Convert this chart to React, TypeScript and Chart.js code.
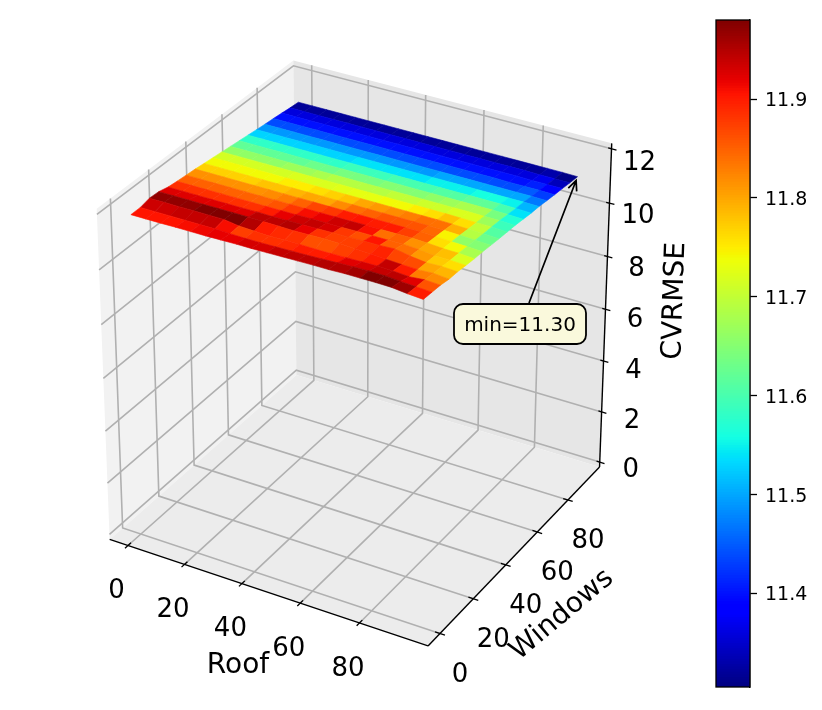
import { useEffect, useRef } from "react"
import { Chart, registerables } from "chart.js"

Chart.register(...registerables)

const FONT = "'DejaVu Sans'"

const roofTicks = [0, 20, 40, 60, 80]
const windowsTicks = [0, 20, 40, 60, 80]
const zTicks = [0, 2, 4, 6, 8, 10, 12]
const colorbarTicks = [11.4, 11.5, 11.6, 11.7, 11.8, 11.9]

const roofGrid = [1, 6, 11.1, 16.1, 21.2, 26.2, 31.2, 36.3, 41.3, 46.4, 51.4, 56.4, 61.5, 66.5, 71.6, 76.6, 81.6, 86.7, 91.7, 96.7]
const windowsGrid = [-1, 3.9, 8.7, 13.6, 18.5, 23.3, 28.2, 33.1, 37.9, 42.8, 47.7, 52.5, 57.4, 62.3, 67.2, 72, 76.9, 81.8, 86.6, 91.5]

// surface height, one row per windows value, one column per roof value
const cvrmse = [
  [11.90, 11.90, 11.90, 11.91, 11.91, 11.91, 11.92, 11.93, 11.93, 11.94, 11.95, 11.96, 11.97, 11.97, 11.99, 11.99, 11.99, 11.98, 11.92, 11.88],
  [11.90, 11.90, 11.90, 11.90, 11.90, 11.90, 11.88, 11.87, 11.87, 11.88, 11.89, 11.90, 11.92, 11.94, 11.96, 11.97, 11.96, 11.92, 11.89, 11.86],
  [11.98, 11.98, 11.98, 11.98, 11.98, 11.98, 11.90, 11.87, 11.85, 11.86, 11.86, 11.85, 11.85, 11.86, 11.87, 11.88, 11.86, 11.82, 11.87, 11.84],
  [11.96, 11.96, 11.96, 11.96, 11.96, 11.96, 11.96, 11.95, 11.94, 11.93, 11.94, 11.95, 11.94, 11.91, 11.88, 11.85, 11.82, 11.80, 11.83, 11.78],
  [11.87, 11.87, 11.87, 11.87, 11.87, 11.87, 11.88, 11.87, 11.88, 11.88, 11.89, 11.90, 11.90, 11.92, 11.92, 11.95, 11.85, 11.78, 11.80, 11.77],
  [11.83, 11.83, 11.83, 11.83, 11.83, 11.83, 11.83, 11.83, 11.83, 11.84, 11.84, 11.84, 11.85, 11.85, 11.85, 11.86, 11.82, 11.76, 11.76, 11.73],
  [11.80, 11.80, 11.80, 11.80, 11.80, 11.80, 11.80, 11.80, 11.80, 11.80, 11.80, 11.80, 11.81, 11.81, 11.81, 11.81, 11.79, 11.75, 11.74, 11.70],
  [11.77, 11.77, 11.77, 11.77, 11.77, 11.77, 11.77, 11.77, 11.77, 11.77, 11.77, 11.77, 11.77, 11.77, 11.77, 11.77, 11.76, 11.73, 11.71, 11.68],
  [11.73, 11.73, 11.73, 11.73, 11.73, 11.73, 11.73, 11.73, 11.73, 11.73, 11.73, 11.73, 11.73, 11.73, 11.73, 11.73, 11.72, 11.70, 11.68, 11.65],
  [11.69, 11.69, 11.69, 11.69, 11.69, 11.69, 11.69, 11.69, 11.69, 11.69, 11.69, 11.69, 11.69, 11.69, 11.69, 11.69, 11.68, 11.66, 11.65, 11.62],
  [11.65, 11.65, 11.65, 11.65, 11.65, 11.65, 11.65, 11.65, 11.65, 11.65, 11.65, 11.65, 11.65, 11.65, 11.65, 11.65, 11.64, 11.63, 11.63, 11.60],
  [11.61, 11.61, 11.61, 11.61, 11.61, 11.61, 11.61, 11.61, 11.61, 11.61, 11.61, 11.61, 11.61, 11.61, 11.61, 11.61, 11.61, 11.60, 11.60, 11.58],
  [11.57, 11.57, 11.57, 11.57, 11.57, 11.57, 11.57, 11.57, 11.57, 11.57, 11.57, 11.57, 11.57, 11.57, 11.57, 11.57, 11.57, 11.57, 11.56, 11.54],
  [11.53, 11.53, 11.53, 11.53, 11.53, 11.53, 11.53, 11.53, 11.53, 11.53, 11.53, 11.53, 11.53, 11.53, 11.53, 11.53, 11.53, 11.53, 11.52, 11.50],
  [11.49, 11.49, 11.49, 11.49, 11.49, 11.49, 11.49, 11.49, 11.49, 11.49, 11.49, 11.49, 11.49, 11.49, 11.49, 11.49, 11.49, 11.49, 11.49, 11.48],
  [11.45, 11.45, 11.45, 11.45, 11.45, 11.45, 11.45, 11.45, 11.45, 11.45, 11.45, 11.45, 11.45, 11.45, 11.45, 11.45, 11.45, 11.45, 11.45, 11.44],
  [11.42, 11.42, 11.42, 11.42, 11.42, 11.42, 11.42, 11.42, 11.42, 11.42, 11.42, 11.42, 11.42, 11.42, 11.42, 11.42, 11.41, 11.41, 11.41, 11.40],
  [11.38, 11.38, 11.38, 11.38, 11.38, 11.38, 11.38, 11.38, 11.38, 11.38, 11.38, 11.38, 11.38, 11.38, 11.38, 11.38, 11.38, 11.37, 11.37, 11.37],
  [11.34, 11.34, 11.34, 11.34, 11.34, 11.34, 11.34, 11.34, 11.34, 11.34, 11.34, 11.34, 11.34, 11.34, 11.34, 11.34, 11.34, 11.33, 11.33, 11.33],
  [11.31, 11.31, 11.31, 11.31, 11.31, 11.31, 11.31, 11.31, 11.31, 11.31, 11.31, 11.31, 11.31, 11.31, 11.31, 11.31, 11.31, 11.31, 11.31, 11.30],
]

const facets = [
  [11.905, 11.905, 11.905, 11.91, 11.915, 11.92, 11.92, 11.93, 11.93, 11.94, 11.943, 11.945, 11.95, 11.95, 11.96, 11.98, 11.98, 11.962, 11.90],
  [11.935, 11.935, 11.94, 11.94, 11.94, 11.91, 11.875, 11.885, 11.885, 11.89, 11.90, 11.90, 11.905, 11.923, 11.93, 11.94, 11.945, 11.923, 11.86],
  [11.97, 11.97, 11.97, 11.98, 11.98, 11.98, 11.95, 11.90, 11.89, 11.885, 11.863, 11.863, 11.874, 11.885, 11.90, 11.94, 11.90, 11.83, 11.82],
  [11.925, 11.925, 11.925, 11.925, 11.925, 11.925, 11.945, 11.945, 11.95, 11.92, 11.885, 11.875, 11.875, 11.885, 11.895, 11.87, 11.865, 11.80, 11.79],
  [11.885, 11.885, 11.885, 11.885, 11.885, 11.885, 11.90, 11.92, 11.935, 11.94, 11.93, 11.88, 11.863, 11.905, 11.85, 11.84, 11.81, 11.775, 11.76],
  [11.85, 11.85, 11.85, 11.85, 11.85, 11.85, 11.86, 11.88, 11.91, 11.92, 11.935, 11.94, 11.908, 11.84, 11.851, 11.816, 11.80, 11.783, 11.72],
  [11.816, 11.816, 11.816, 11.816, 11.816, 11.82, 11.83, 11.85, 11.87, 11.88, 11.90, 11.905, 11.90, 11.90, 11.875, 11.85, 11.76, 11.74, 11.68],
  [11.77, 11.77, 11.77, 11.77, 11.78, 11.78, 11.79, 11.80, 11.80, 11.82, 11.84, 11.85, 11.86, 11.86, 11.86, 11.845, 11.745, 11.66, 11.65],
  [11.74, 11.74, 11.74, 11.74, 11.74, 11.75, 11.75, 11.76, 11.77, 11.78, 11.80, 11.81, 11.82, 11.83, 11.84, 11.839, 11.794, 11.69, 11.63],
  [11.715, 11.715, 11.715, 11.715, 11.715, 11.72, 11.72, 11.72, 11.725, 11.73, 11.73, 11.74, 11.74, 11.75, 11.76, 11.78, 11.76, 11.70, 11.61],
  [11.66, 11.66, 11.66, 11.66, 11.67, 11.67, 11.68, 11.69, 11.69, 11.69, 11.69, 11.70, 11.70, 11.71, 11.71, 11.72, 11.72, 11.67, 11.59],
  [11.62, 11.62, 11.62, 11.62, 11.62, 11.63, 11.63, 11.64, 11.64, 11.64, 11.65, 11.65, 11.65, 11.66, 11.67, 11.68, 11.68, 11.64, 11.57],
  [11.58, 11.58, 11.58, 11.58, 11.58, 11.58, 11.58, 11.59, 11.59, 11.59, 11.60, 11.60, 11.60, 11.61, 11.61, 11.62, 11.62, 11.60, 11.54],
  [11.53, 11.53, 11.53, 11.53, 11.53, 11.53, 11.53, 11.54, 11.54, 11.54, 11.54, 11.54, 11.55, 11.55, 11.55, 11.56, 11.56, 11.55, 11.51],
  [11.49, 11.49, 11.49, 11.49, 11.49, 11.49, 11.49, 11.49, 11.49, 11.49, 11.49, 11.49, 11.50, 11.50, 11.50, 11.50, 11.50, 11.50, 11.47],
  [11.44, 11.44, 11.44, 11.44, 11.44, 11.44, 11.44, 11.44, 11.44, 11.44, 11.44, 11.44, 11.44, 11.44, 11.44, 11.44, 11.44, 11.45, 11.43],
  [11.40, 11.40, 11.40, 11.40, 11.40, 11.40, 11.40, 11.40, 11.40, 11.40, 11.40, 11.40, 11.40, 11.40, 11.40, 11.40, 11.40, 11.41, 11.39],
  [11.36, 11.36, 11.36, 11.36, 11.36, 11.36, 11.36, 11.36, 11.36, 11.36, 11.36, 11.36, 11.36, 11.36, 11.36, 11.36, 11.36, 11.37, 11.34],
  [11.32, 11.32, 11.32, 11.32, 11.32, 11.32, 11.32, 11.32, 11.32, 11.32, 11.32, 11.32, 11.32, 11.32, 11.32, 11.32, 11.32, 11.33, 11.31],
]

const colorMin = 11.3055
const colorMax = 11.98

type Stop = [number, number]
const jetRed: Stop[] = [[0, 0], [0.35, 0], [0.66, 1], [0.89, 1], [1, 0.5]]
const jetGreen: Stop[] = [[0, 0], [0.125, 0], [0.375, 1], [0.64, 1], [0.91, 0], [1, 0]]
const jetBlue: Stop[] = [[0, 0.5], [0.11, 1], [0.34, 1], [0.65, 0], [1, 0]]

function channel(stops: Stop[], t: number) {
  for (let i = 1; i < stops.length; i++) {
    if (t <= stops[i][0]) {
      const [x0, y0] = stops[i - 1]
      const [x1, y1] = stops[i]
      return Math.round(255 * (y0 + ((y1 - y0) * (t - x0)) / (x1 - x0)))
    }
  }
  return Math.round(255 * stops[stops.length - 1][1])
}

function jet(value: number) {
  const t = Math.min(1, Math.max(0, (value - colorMin) / (colorMax - colorMin)))
  return `rgb(${channel(jetRed, t)}, ${channel(jetGreen, t)}, ${channel(jetBlue, t)})`
}

// same camera as matplotlib's default 3d view: elev 30, azim -60, dist 10.
// a, b, c run from -0.5 to 0.5 across the box
function view(a: number, b: number, c: number) {
  const xv = 0.866 * a + 0.5 * b
  const yv = -0.25 * a + 0.433 * b + 0.866 * c
  const zv = -10 + 0.433 * a - 0.75 * b + 0.5 * c
  return { x: xv / -zv, y: yv / -zv }
}

const roofToBox = (v: number) => -0.44 + 0.00915 * v
const windowsToBox = (v: number) => -0.435 + 0.00924 * v
const zToBox = (v: number) => (v + 0.2) / 12.4 - 0.5
const project = (roof: number, win: number, z: number) => view(roofToBox(roof), windowsToBox(win), zToBox(z))

function shape(points: { x: number; y: number }[], color: string, stroke = color, width = 0.6) {
  return {
    data: [...points, points[0]],
    showLine: true,
    fill: "shape",
    backgroundColor: color,
    borderColor: stroke,
    borderWidth: width,
    pointRadius: 0,
    tension: 0,
  }
}

function polyline(points: { x: number; y: number }[], color: string, width: number) {
  return {
    data: points,
    showLine: true,
    fill: false,
    borderColor: color,
    borderWidth: width,
    pointRadius: 0,
    tension: 0,
  }
}

function buildDatasets() {
  const sets: any[] = []
  const gridColor = "#b0b0b0"
  const paneLine = "rgba(0,0,0,0)"

  // panes
  sets.push(shape([view(-0.5, -0.5, -0.5), view(-0.5, 0.5, -0.5), view(-0.5, 0.5, 0.5), view(-0.5, -0.5, 0.5)], "#f2f2f2", paneLine, 0))
  sets.push(shape([view(-0.5, 0.5, -0.5), view(0.5, 0.5, -0.5), view(0.5, 0.5, 0.5), view(-0.5, 0.5, 0.5)], "#e6e6e6", paneLine, 0))
  sets.push(shape([view(-0.5, -0.5, -0.5), view(0.5, -0.5, -0.5), view(0.5, 0.5, -0.5), view(-0.5, 0.5, -0.5)], "#ececec", paneLine, 0))

  // grid lines
  roofTicks.forEach((t) => {
    const a = roofToBox(t)
    sets.push(polyline([view(a, -0.5, -0.5), view(a, 0.5, -0.5), view(a, 0.5, 0.5)], gridColor, 1.6))
  })
  windowsTicks.forEach((t) => {
    const b = windowsToBox(t)
    sets.push(polyline([view(0.5, b, -0.5), view(-0.5, b, -0.5), view(-0.5, b, 0.5)], gridColor, 1.6))
  })
  zTicks.forEach((t) => {
    const c = zToBox(t)
    sets.push(polyline([view(-0.5, -0.5, c), view(-0.5, 0.5, c), view(0.5, 0.5, c)], gridColor, 1.6))
  })

  // axis lines and ticks
  sets.push(polyline([view(-0.5, -0.5, -0.5), view(0.5, -0.5, -0.5)], "#000", 1.4))
  sets.push(polyline([view(0.5, -0.5, -0.5), view(0.5, 0.5, -0.5)], "#000", 1.4))
  sets.push(polyline([view(0.5, 0.5, -0.5), view(0.5, 0.5, 0.5)], "#000", 1.4))
  roofTicks.forEach((t) => {
    const a = roofToBox(t)
    sets.push(polyline([view(a, -0.515, -0.5), view(a, -0.485, -0.5)], "#000", 1.3))
  })
  windowsTicks.forEach((t) => {
    const b = windowsToBox(t)
    sets.push(polyline([view(0.485, b, -0.5), view(0.515, b, -0.5)], "#000", 1.3))
  })
  zTicks.forEach((t) => {
    const c = zToBox(t)
    sets.push(polyline([view(0.49, 0.5, c), view(0.515, 0.5, c)], "#000", 1.3))
  })

  // surface, back rows first
  for (let j = windowsGrid.length - 2; j >= 0; j--) {
    for (let i = 0; i < roofGrid.length - 1; i++) {
      sets.push(
        shape(
          [
            project(roofGrid[i], windowsGrid[j], cvrmse[j][i]),
            project(roofGrid[i + 1], windowsGrid[j], cvrmse[j][i + 1]),
            project(roofGrid[i + 1], windowsGrid[j + 1], cvrmse[j + 1][i + 1]),
            project(roofGrid[i], windowsGrid[j + 1], cvrmse[j + 1][i]),
          ],
          jet(facets[j][i])
        )
      )
    }
  }

  // Chart.js paints the highest order first
  sets.forEach((s, i) => (s.order = sets.length - i))
  return sets
}

const labelsPlugin = {
  id: "labels3d",
  afterDatasetsDraw(chart: any) {
    const { ctx, scales } = chart
    const px = (p: { x: number; y: number }) => ({ x: scales.x.getPixelForValue(p.x), y: scales.y.getPixelForValue(p.y) })

    ctx.save()
    ctx.fillStyle = "#000"
    ctx.textAlign = "center"
    ctx.textBaseline = "middle"
    ctx.font = `26px ${FONT}`
    roofTicks.forEach((t) => {
      const p = px(view(roofToBox(t), -0.5, -0.5))
      ctx.fillText(String(t), p.x - 11.5, p.y + 46)
    })
    windowsTicks.forEach((t) => {
      const p = px(view(0.5, windowsToBox(t), -0.5))
      ctx.fillText(String(t), p.x + 20, p.y + 41.5)
    })
    zTicks.forEach((t) => {
      const p = px(view(0.5, 0.5, zToBox(t)))
      ctx.fillText(String(t), p.x + 31 - t / 4, p.y + 8.5 + t / 2)
    })

    ctx.font = `28px ${FONT}`
    ctx.fillText("Roof", 238, 666)
    const rotated = (text: string, x: number, y: number, deg: number) => {
      ctx.save()
      ctx.translate(x, y)
      ctx.rotate((deg * Math.PI) / 180)
      ctx.fillText(text, 0, 0)
      ctx.restore()
    }
    rotated("Windows", 562, 615, -40)
    rotated("CVRMSE", 675, 301, -88)

    // annotation of the minimum
    const last = windowsGrid.length - 1
    const target = px(project(roofGrid[last], windowsGrid[last], cvrmse[last][last]))
    const fromX = 529
    const fromY = 303
    const angle = Math.atan2(target.y - fromY, target.x - fromX)
    const tipX = target.x - 4 * Math.cos(angle)
    const tipY = target.y - 4 * Math.sin(angle)
    ctx.strokeStyle = "#000"
    ctx.lineWidth = 1.7
    ctx.beginPath()
    ctx.moveTo(fromX, fromY)
    ctx.lineTo(tipX, tipY)
    ctx.moveTo(tipX - 11 * Math.cos(angle - 0.42), tipY - 11 * Math.sin(angle - 0.42))
    ctx.lineTo(tipX, tipY)
    ctx.lineTo(tipX - 11 * Math.cos(angle + 0.42), tipY - 11 * Math.sin(angle + 0.42))
    ctx.stroke()

    ctx.beginPath()
    ctx.roundRect(454, 304, 132, 40, 9)
    ctx.fillStyle = "#faf9dc"
    ctx.fill()
    ctx.lineWidth = 1.8
    ctx.stroke()
    ctx.fillStyle = "#000"
    ctx.font = `20px ${FONT}`
    ctx.fillText("min=11.30", 520, 326)
    ctx.restore()
  },
}

const framePlugin = {
  id: "colorbarFrame",
  afterDatasetsDraw(chart: any) {
    const { ctx, chartArea } = chart
    ctx.save()
    ctx.strokeStyle = "#000"
    ctx.lineWidth = 1.3
    ctx.strokeRect(chartArea.left, chartArea.top, chartArea.right - chartArea.left, chartArea.bottom - chartArea.top)
    ctx.restore()
  },
}

export default function App() {
  const mainRef = useRef<HTMLCanvasElement>(null)
  const barRef = useRef<HTMLCanvasElement>(null)

  useEffect(() => {
    document.body.style.margin = "0"
    if (!mainRef.current || !barRef.current) return

    const main = new Chart(mainRef.current, {
      type: "scatter",
      data: { datasets: buildDatasets() },
      options: {
        animation: false,
        responsive: false,
        layout: { padding: 0 },
        scales: {
          x: { type: "linear", display: false, min: -0.09752, max: 0.12615 },
          y: { type: "linear", display: false, min: -0.09717, max: 0.09091 },
        },
        plugins: { legend: { display: false }, tooltip: { enabled: false } },
      },
      plugins: [labelsPlugin],
    } as any)

    // colorbar, one floating bar per colour level, each running to the top
    const levels = 256
    const barSets: any[] = []
    for (let i = 0; i < levels; i++) {
      const lo = colorMin + ((colorMax - colorMin) * i) / levels
      barSets.push({
        data: [[lo, colorMax]],
        backgroundColor: jet(lo + (colorMax - colorMin) / levels / 2),
        borderWidth: 0,
        barPercentage: 1,
        categoryPercentage: 1,
        grouped: false,
        order: levels - i,
      })
    }

    const bar = new Chart(barRef.current, {
      type: "bar",
      data: { labels: ["CVRMSE"], datasets: barSets },
      options: {
        animation: false,
        responsive: false,
        layout: { padding: { left: 16, top: 20, bottom: 23, right: 0 } },
        scales: {
          x: { display: false },
          y: {
            position: "right",
            min: colorMin,
            max: colorMax,
            afterFit: (scale: any) => {
              scale.width = 72
            },
            afterBuildTicks: (scale: any) => {
              scale.ticks = colorbarTicks.map((value) => ({ value }))
            },
            grid: { drawOnChartArea: false, drawTicks: true, tickLength: 7, tickColor: "#000", tickWidth: 1.3 },
            border: { color: "#000", width: 1.3 },
            ticks: {
              color: "#000",
              padding: 8,
              labelOffset: 2,
              font: { family: "DejaVu Sans", size: 19 },
              callback: (value: any) => Number(value).toFixed(1),
            },
          },
        },
        plugins: { legend: { display: false }, tooltip: { enabled: false } },
      },
      plugins: [framePlugin],
    } as any)

    return () => {
      main.destroy()
      bar.destroy()
    }
  }, [])

  return (
    <div style={{ position: "relative", width: 822, height: 710, overflow: "hidden", background: "#fff" }}>
      <canvas ref={mainRef} width={822} height={710} style={{ position: "absolute", left: 0, top: 0 }}></canvas>
      <canvas ref={barRef} width={122} height={710} style={{ position: "absolute", left: 700, top: 0 }}></canvas>
    </div>
  )
}
